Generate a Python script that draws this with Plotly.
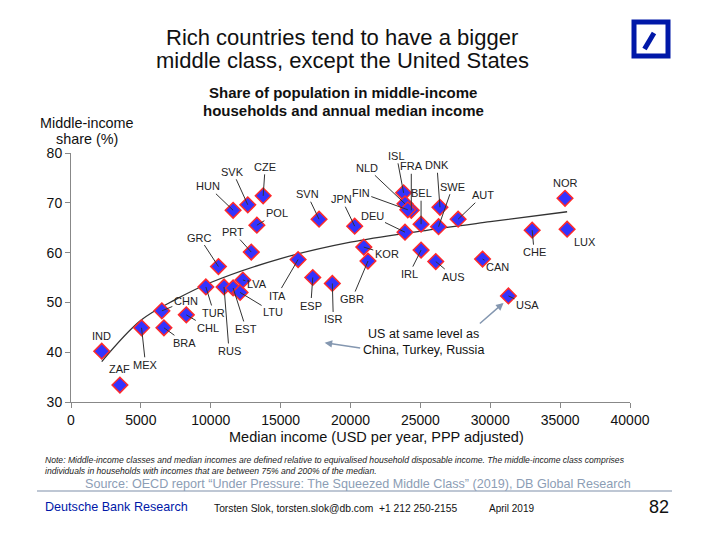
import plotly.graph_objects as go

# Data
countries = ["IND", "ZAF", "MEX", "BRA", "CHN", "CHL", "TUR", "GRC", "RUS", "EST",
             "LTU", "LVA", "PRT", "POL", "HUN", "SVK", "CZE", "ITA", "SVN", "JPN",
             "ESP", "ISR", "KOR", "GBR", "ISL", "NLD", "FRA", "FIN", "DEU", "BEL",
             "DNK", "SWE", "AUT", "IRL", "AUS", "CAN", "USA", "CHE", "NOR", "LUX"]
median_income = [2200, 3500, 5050, 6650, 6500, 8250, 9650, 10550, 10950, 11600,
                 12100, 12300, 12900, 13300, 11600, 12650, 13750, 16250, 17750, 20300,
                 17300, 18700, 20950, 21250, 23800, 23900, 24350, 24100, 23900, 25050,
                 26400, 26300, 27700, 25050, 26100, 29450, 31300, 33000, 35350, 35500]
middle_share = [40.2, 33.4, 44.9, 44.9, 48.3, 47.5, 53.1, 57.2, 53.1, 52.9,
                52.0, 54.5, 60.1, 65.5, 68.5, 69.6, 71.4, 58.6, 66.7, 65.3,
                55.0, 53.8, 61.1, 58.3, 72.0, 69.8, 68.5, 68.6, 64.1, 65.7,
                69.1, 65.2, 66.7, 60.5, 58.2, 58.7, 51.3, 64.5, 70.9, 64.7]

# Trend curve
trend_x = [2200, 5000, 7500, 10000, 15000, 20000, 25000, 30000, 35500]
trend_y = [38.1, 46.4, 50.6, 54.0, 58.8, 62.1, 64.3, 66.2, 68.2]

# label offsets in pixels (dx, dy, leader line?)
label_pos = {
    "IND": (0, -15, False), "ZAF": (0, -16, False), "MEX": (4, 37, True),
    "BRA": (21, 15, True), "CHN": (24, -10, True), "CHL": (22, 13, True),
    "TUR": (8, 26, True), "GRC": (-19, -29, True), "RUS": (5, 64, True),
    "EST": (13, 41, True), "LTU": (33, 20, True), "LVA": (14, 4, True),
    "PRT": (-18, -20, True), "POL": (20, -12, True), "HUN": (-25, -24, True),
    "SVK": (-15, -33, True), "CZE": (2, -29, True), "ITA": (-21, 36, True),
    "SVN": (-12, -25, True), "JPN": (-13, -27, True), "ESP": (-2, 28, True),
    "ISR": (1, 36, True), "KOR": (23, 7, True), "GBR": (-16, 38, True),
    "ISL": (-7, -37, True), "NLD": (-38, -36, True), "FRA": (0, -44, True),
    "FIN": (-47, -17, True), "DEU": (-33, -16, True), "BEL": (0, -31, True),
    "DNK": (-3, -42, True), "SWE": (14, -40, True), "AUT": (25, -24, True),
    "IRL": (-12, 24, True), "AUS": (18, 15, True), "CAN": (15, 8, True),
    "USA": (19, 9, True), "CHE": (2, 22, True), "NOR": (0, -15, False),
    "LUX": (18, 13, True),
}

FONT = "Liberation Sans, Arial, sans-serif"
OFF = 8  # page body margin
W, H = 701 - 2 * OFF, 539 - 2 * OFF
PL, PR, PT, PB = 71, 630, 153, 402  # wanted plot box in window pixels
L, T = PL - OFF, PT - OFF
R, B = W - (PR - OFF), H - (PB - OFF)


def px(xp):
    return (xp - PL) / (PR - PL)


def py(yp):
    return (PB - yp) / (PB - PT)


fig = go.Figure()

fig.add_trace(go.Scatter(
    x=trend_x, y=trend_y, mode="lines",
    line=dict(color="#333333", width=1.3, shape="spline"),
    hoverinfo="skip", showlegend=False,
))

fig.add_trace(go.Scatter(
    x=median_income, y=middle_share, mode="markers",
    marker=dict(symbol="diamond", size=12, color="#3333FF",
                line=dict(color="#FF2A2A", width=1.5)),
    text=countries, hoverinfo="text", showlegend=False,
))

annotations = []
for c, xv, yv in zip(countries, median_income, middle_share):
    dx, dy, line = label_pos[c]
    if line:
        annotations.append(dict(
            x=xv, y=yv, text=c, showarrow=True, ax=dx, ay=dy,
            arrowhead=0, arrowwidth=1, arrowcolor="#333333", standoff=0,
            font=dict(family=FONT, size=11, color="#222222"),
        ))
    else:
        annotations.append(dict(
            x=xv, y=yv, text=c, showarrow=False, xshift=dx, yshift=-dy,
            font=dict(family=FONT, size=11, color="#222222"),
        ))

# US comment with two arrows
annotations.append(dict(
    x=25250, y=42.1, text="US at same level as<br>China, Turkey, Russia",
    showarrow=False, font=dict(family=FONT, size=12.5, color="#111111"),
))
for tail, head in [((20800, 40.8), (18150, 41.9)), ((29150, 45.5), (30950, 49.9))]:
    annotations.append(dict(
        x=head[0], y=head[1], ax=tail[0], ay=tail[1], axref="x", ayref="y",
        text="", showarrow=True, arrowhead=2, arrowsize=1, arrowwidth=1.5,
        arrowcolor="#8497B0",
    ))

# titles and footer text
page_text = [
    (342, 37, "Rich countries tend to have a bigger", dict(family=FONT, size=22, color="#111111"), "center"),
    (342, 60, "middle class, except the United States", dict(family=FONT, size=22, color="#111111"), "center"),
    (343, 93, "<b>Share of population in middle-income</b>", dict(family=FONT, size=15, color="#111111"), "center"),
    (343, 110, "<b>households and annual median income</b>", dict(family=FONT, size=15, color="#111111"), "center"),
    (87, 123, "Middle-income", dict(family=FONT, size=14.4, color="#111111"), "center"),
    (87, 139, "share (%)", dict(family=FONT, size=14.4, color="#111111"), "center"),
    (376, 437, "Median income (USD per year, PPP adjusted)",
     dict(family=FONT, size=14.5, color="#111111"), "center"),
    (43, 465, "<i>Note: Middle-income classes and median incomes are defined relative to equivalised household disposable income. "
              "The middle-income class comprises<br>individuals in households with incomes that are between 75% and 200% of the median.</i>",
     dict(family=FONT, size=8.6, color="#222222"), "left"),
    (358, 484, "Source: OECD report \u201cUnder Pressure: The Squeezed Middle Class\u201d (2019), DB Global Research",
     dict(family=FONT, size=12.6, color="#8C9DB5"), "center"),
    (43, 507, "Deutsche Bank Research", dict(family=FONT, size=12.6, color="#0018A8"), "left"),
    (212, 508, "Torsten Slok, torsten.slok@db.com  +1 212 250-2155",
     dict(family=FONT, size=10.3, color="#111111"), "left"),
    (487, 508, "April 2019", dict(family=FONT, size=10, color="#111111"), "left"),
    (671, 507, "82", dict(family=FONT, size=18, color="#111111"), "right"),
]
for xp, yp, txt, fnt, anchor in page_text:
    annotations.append(dict(
        x=px(xp), y=py(yp), xref="paper", yref="paper", text=txt,
        showarrow=False, xanchor=anchor, yanchor="middle", align=anchor, font=fnt,
    ))

shapes = [
    # footer rule
    dict(type="line", xref="paper", yref="paper", x0=px(37), x1=px(672),
         y0=py(491), y1=py(491), line=dict(color="#A8B4C6", width=1.5)),
    # logo
    dict(type="rect", xref="paper", yref="paper", x0=px(634), x1=px(668),
         y0=py(22), y1=py(56), line=dict(color="#0018A8", width=5), fillcolor="white"),
    dict(type="line", xref="paper", yref="paper", x0=px(644.5), x1=px(654),
         y0=py(49), y1=py(33), line=dict(color="#0018A8", width=5)),
]

fig.update_layout(
    width=W, height=H,
    margin=dict(l=L, r=R, t=T, b=B),
    paper_bgcolor="white", plot_bgcolor="white",
    font=dict(family=FONT, size=14, color="#111111"),
    annotations=annotations, shapes=shapes,
    xaxis=dict(range=[0, 40000], tickvals=list(range(0, 40001, 5000)), tickformat="d",
               showgrid=False, zeroline=False, showline=True, linecolor="#888888",
               linewidth=1, ticks="outside", ticklen=5, tickcolor="#888888",
               tickfont=dict(family=FONT, size=14, color="#111111")),
    yaxis=dict(range=[30, 80], tickvals=[30, 40, 50, 60, 70, 80],
               showgrid=False, zeroline=False, showline=True, linecolor="#888888",
               linewidth=1, ticks="outside", ticklen=5, tickcolor="#888888",
               tickfont=dict(family=FONT, size=14, color="#111111")),
)

fig.write_html("out.html")
